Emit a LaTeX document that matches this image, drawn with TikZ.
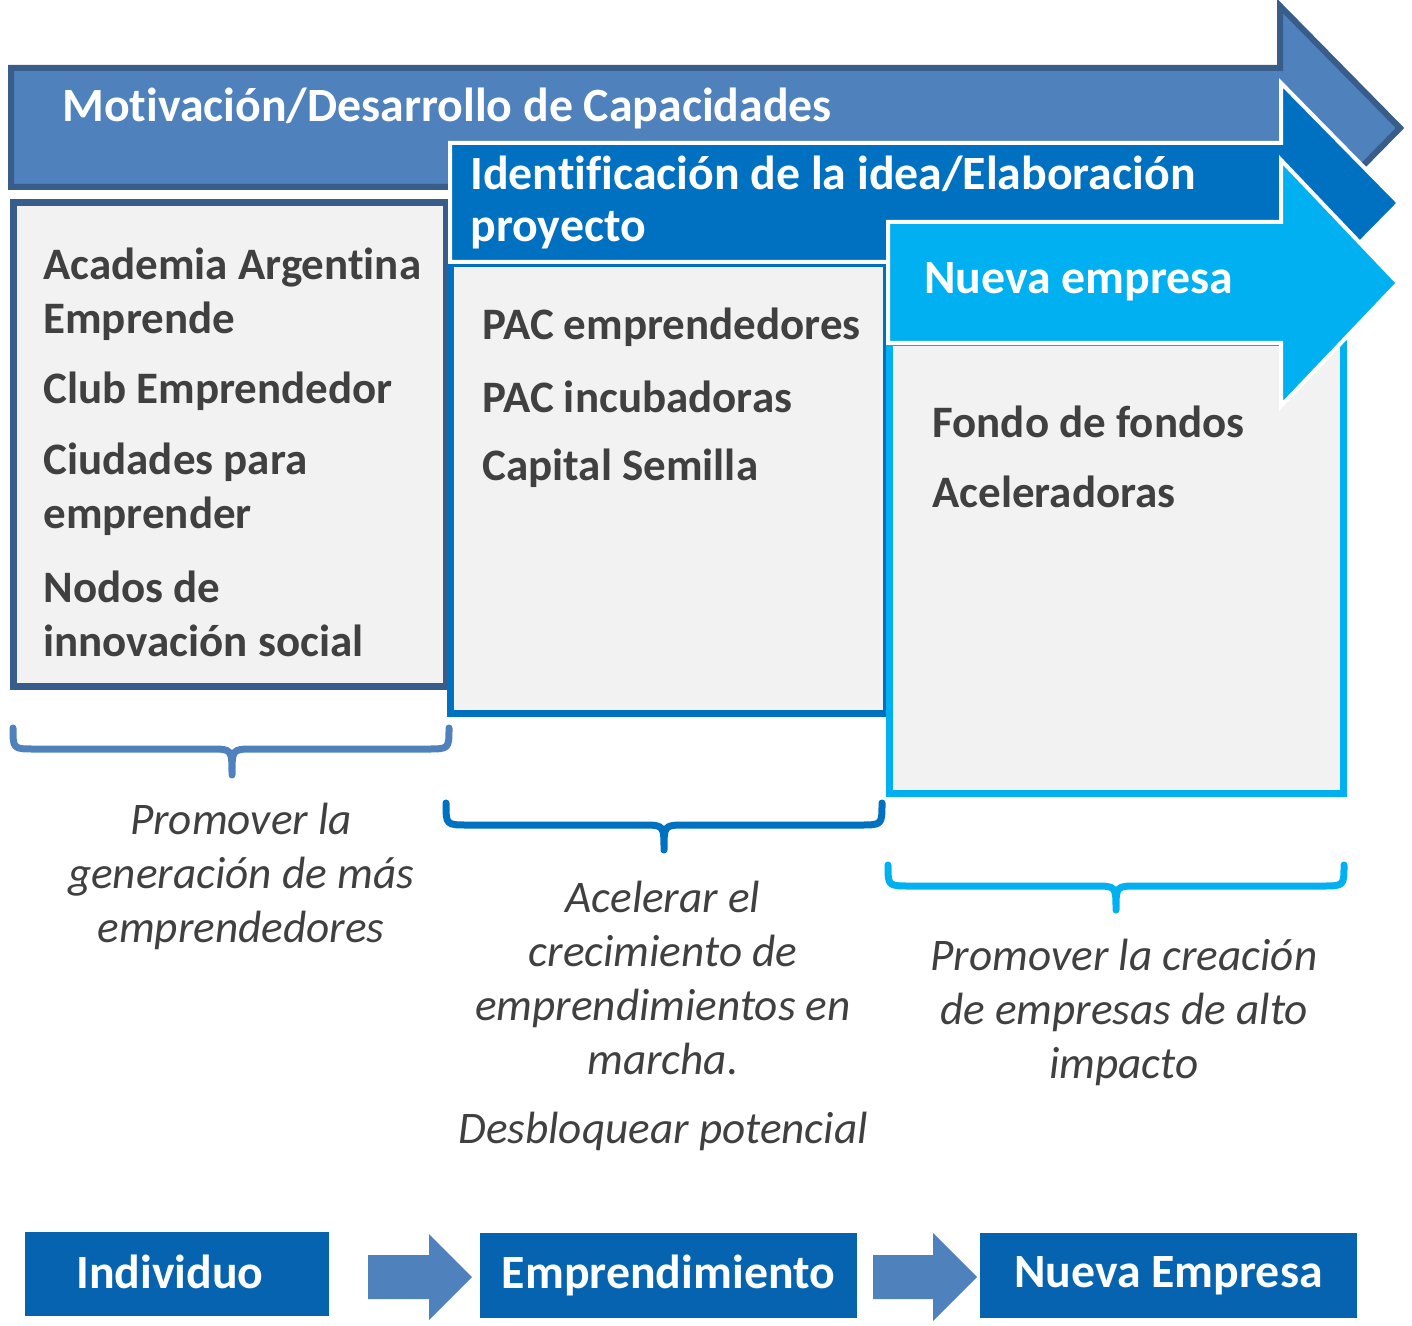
\documentclass[tikz,border=0pt]{standalone}
\usepackage{fontspec}
\setmainfont{Carlito}[Ligatures=NoCommon]
\usepackage{tikz}
\definecolor{motiv}{HTML}{4F81BD}
\definecolor{motivline}{HTML}{385D8A}
\definecolor{ident}{HTML}{0070C0}
\definecolor{nueva}{HTML}{00B0F0}
\definecolor{panel}{HTML}{F2F2F2}
\definecolor{ink}{HTML}{404040}
\definecolor{stagefill}{HTML}{0563AF}
\tikzset{
  banner/.style={anchor=west, inner sep=0pt, text=white, font=\fontsize{23.9}{26}\selectfont\bfseries, align=left},
  item/.style={anchor=west, inner sep=0pt, text=ink, font=\fontsize{22.5}{27}\selectfont\bfseries, align=left},
  note/.style={inner sep=0pt, text=ink, font=\fontsize{22.6}{27}\selectfont\itshape, align=center},
  stagebox/.style={fill=stagefill, text=white, font=\fontsize{23.9}{26}\selectfont\bfseries, inner sep=0pt},
  brace/.style={line width=3.5pt, line cap=round, line join=round},
}

\begin{document}
\begin{tikzpicture}[x=0.5pt, y=-0.5pt]
        \useasboundingbox (0,0) rectangle (1412,1326);

        % big arrows and their panels
        \filldraw[fill=motiv, draw=motivline, line width=3pt, line join=miter]
            (11,68) -- (1280,68) -- (1280,6) -- (1400,128) -- (1280,250) -- (1280,187) -- (11,187) -- cycle;
        \filldraw[fill=panel, draw=motivline, line width=3.5pt] (13.5,202.5) rectangle (446.5,686.5);
        \filldraw[fill=panel, draw=ident, line width=3.5pt] (450.5,264) rectangle (886.5,713.5);
        \filldraw[fill=ident, draw=white, line width=2pt, line join=miter]
            (450,143) -- (1281,143) -- (1281,83) -- (1399,203) -- (1281,323) -- (1281,262) -- (450,262) -- cycle;
        \filldraw[fill=panel, draw=nueva, line width=3.5pt] (889.5,343) rectangle (1343.5,793.5);
        \filldraw[fill=nueva, draw=white, line width=2pt, line join=miter]
            (888,222) -- (1281,222) -- (1281,160) -- (1398,283) -- (1281,406) -- (1281,343) -- (888,343) -- cycle;

        \node[banner] (motivacion) at (62,108) {Motivación/Desarrollo de Capacidades};
        \node[banner] (identificacion) at (470,202) {Identificación de la idea/Elaboración\\proyecto};
        \node[banner] (nuevaempresa) at (924,282) {Nueva empresa};

        \node[item] (academia) at (43,294) {Academia Argentina\\Emprende};
        \node[item] (club) at (43,391) {Club Emprendedor};
        \node[item] (ciudades) at (43,489) {Ciudades para\\emprender};
        \node[item] (nodos) at (43,614) {Nodos de\\innovación social};

        \node[item] (pacemp) at (482,327) {PAC emprendedores};
        \node[item] (pacinc) at (482,397) {PAC incubadoras};
        \node[item] (semilla) at (482,468) {Capital Semilla};

        \node[item] (fondo) at (932,422) {Fondo de fondos};
        \node[item] (acel) at (932,492) {Aceleradoras};

        % braces
        \draw[brace, draw=motiv] (13,728) .. controls (13,749) .. (35,749) -- (210,749)
            .. controls (232,749) .. (232,775) .. controls (232,749) .. (254,749) -- (427,749) .. controls (449,749) .. (449,728);
        \draw[brace, draw=ident] (446,803) .. controls (446,825) .. (468,825) -- (642,825)
            .. controls (664,825) .. (664,850) .. controls (664,825) .. (686,825) -- (860,825) .. controls (882,825) .. (882,803);
        \draw[brace, draw=nueva] (888,865) .. controls (888,886) .. (910,886) -- (1094,886)
            .. controls (1116,886) .. (1116,910) .. controls (1116,886) .. (1138,886) -- (1322,886) .. controls (1344,886) .. (1344,865);

        \node[note] (promover) at (241,876) {Promover la\\generación de más\\emprendedores};
        \node[note] (acelerar) at (663,978) {Acelerar el\\crecimiento de\\emprendimientos en\\marcha.};
        \node[note] (desbloquear) at (663,1131) {Desbloquear potencial};
        \node[note] (creacion) at (1124,1012) {Promover la creación\\de empresas de alto\\impacto};

        % stages
        \node[stagebox, minimum width=152pt, minimum height=42pt] (individuo) at (177,1274) {\raisebox{2.5pt}{Individuo}\hspace*{7pt}};
        \node[stagebox, minimum width=188.5pt, minimum height=42.5pt] (emprendimiento) at (668.5,1275.5) {\raisebox{0.5pt}{Emprendimiento}};
        \node[stagebox, minimum width=188.5pt, minimum height=42.5pt] (empresa) at (1168.5,1275.5) {\raisebox{0.5pt}{Nueva Empresa}};

        \fill[motiv] (368,1255) -- (429,1255) -- (429,1234) -- (472,1277) -- (429,1320) -- (429,1299) -- (368,1299) -- cycle;
        \fill[motiv] (873,1255) -- (933,1255) -- (933,1233) -- (977,1277) -- (933,1321) -- (933,1299) -- (873,1299) -- cycle;
\end{tikzpicture}
\end{document}
